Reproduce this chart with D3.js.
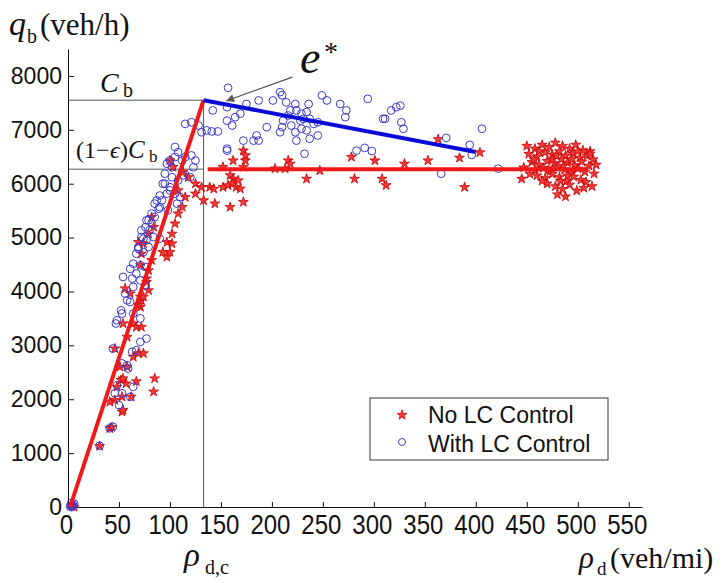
<!DOCTYPE html>
<html><head><meta charset="utf-8">
<script src="https://cdn.jsdelivr.net/npm/d3@7"></script>
<style>body{margin:0;background:#fff}svg{display:block}</style>
</head><body>
<svg id="chart" width="727" height="583"></svg>
<script>
// ---- data ----
const xTicks = [0,50,100,150,200,250,300,350,400,450,500,550];
const yTicks = [0,1000,2000,3000,4000,5000,6000,7000,8000];
const capacity = 7550;      // C_b
const dropCapacity = 6270;  // (1-eps) C_b
const criticalDensity = 133; // rho_d,c
const redRiseLine = [[2,0],[133,7550]];
const redFlatLine = [[137,6270],[510,6270]];
const blueLine = [[133,7550],[400,6590]];
const arrowFrom = [220,7980];
const arrowTo = [155,7535];

const noLC = [
 [4,30],[6,0],
 [31,1130],[41,1460],[43,1480],[46,1985],[41,1950],[53,1765],[54,1800],[48,2230],[53,2045],[62,2045],
 [52,2355],[57,2290],[67,2330],[54,2385],[84,2140],[85,2385],[51,2600],[58,2600],[64,2785],[69,2850],
 [74,2850],[46,2940],[58,3155],[54,3405],[64,3405],[67,3340],[72,3340],[71,3710],[69,3745],[72,3835],
 [61,3960],[71,3900],[74,3900],[56,4055],[79,4020],[77,4175],[77,4240],[79,4390],[71,4485],[82,4580],
 [93,4730],[97,4640],[72,4700],[100,4730],[74,4890],[69,4915],[97,4915],[102,4890],[79,5070],[102,5070],
 [84,5195],[105,5260],[82,5380],[108,5445],[112,5565],[108,5875],[115,5750],[125,5815],[125,6000],
 [131,5935],[118,6120],[113,6215],[103,6310],[100,6430],
 [133,5690],[139,5935],[143,5905],[144,5630],[152,5935],[157,5970],[159,5565],[159,6155],[162,6090],
 [161,6000],[165,5935],[169,5905],[167,6060],[172,5660],[152,6310],[162,6430],[172,6310],[174,6430],
 [172,6615],[174,6525],[203,6280],[213,6280],[216,6430],[218,6370],[234,6090],[247,6245],[278,6495],
 [281,6090],[301,6430],[308,6090],[312,5970],[330,6370],[353,6430],[363,6825],[384,6480],[389,5935],
 [404,6580],[445,6090],
 [450,6700],[458,6650],[465,6720],[472,6680],[478,6760],[485,6700],[492,6650],[498,6720],[505,6620],[512,6600],
 [452,6550],[460,6500],[468,6580],[475,6540],[482,6600],[488,6520],[495,6560],[502,6480],[509,6520],[515,6450],
 [455,6400],[462,6350],[470,6420],[477,6380],[484,6450],[490,6390],[497,6340],[504,6410],[511,6330],[447,6300],
 [458,6250],[466,6290],[473,6230],[480,6300],[487,6260],[494,6200],[500,6280],[507,6220],[516,6185],[518,6350],
 [460,6150],[468,6100],[475,6180],[482,6120],[489,6050],[496,6130],[503,6070],[508,6030],[470,6000],[478,5950],
 [485,5900],[492,5980],[499,5870],[506,5920],[480,5800],[488,5760],[475,6450],[462,6600],[494,6450],[486,6330],
 [471,6250],[479,6520],[500,6600],[457,6450],[490,6150],[465,6050],[514,5950],[512,6555],[453,6180],[483,6050]
];

const withLC = [
 [2,10],[3,20],[4,0],[5,40],[6,60],[3,70],
 [31,1136],[41,1460],[44,1490],[50,1890],[46,2110],[53,2110],[48,2260],[61,2045],[64,2230],[53,2665],
 [58,2630],[59,2570],[63,2880],[67,2910],[44,2940],[71,3065],[77,3125],[47,3405],[48,3465],[52,3650],
 [53,3590],[64,3590],[71,3500],[56,3960],[58,3835],[61,3805],[64,4085],[76,4115],[71,4205],[63,4240],
 [54,4270],[67,4330],[61,4420],[64,4515],[71,4485],[76,4455],[67,4700],[69,4825],[74,4730],[77,4950],
 [72,5010],[76,5195],[80,5135],[79,5320],[82,5445],[85,5630],[69,4795],[79,4825],[84,5010],[90,4980],
 [74,4980],[72,5135],[77,5320],[82,5260],[85,5380],[89,5535],[87,5690],[90,5780],[100,5875],[95,6000],
 [92,5690],[90,5565],[98,5505],[107,5630],[110,5750],[97,5815],[105,5815],[100,5935],[93,6000],[95,6185],
 [102,6120],[108,6060],[113,6155],[120,6120],[97,6370],[100,6430],[102,6305],[105,6495],[105,6680],
 [108,6585],[112,6430],[115,6495],[121,6525],[125,6430],[123,6305],[115,7110],[121,7140],[128,7080],
 [131,6955],[136,6990],[141,6970],[147,6970],
 [142,7360],[156,7420],[157,7780],[156,7170],[161,7080],[164,7235],[169,7300],[175,7480],[187,7545],
 [156,6650],[156,6615],[172,6800],[182,6800],[187,6800],[185,6895],[195,7050],
 [201,7545],[208,7700],[210,7640],[214,7510],[223,7480],[224,7360],[229,7300],[236,7480],[234,7330],
 [237,7205],[241,7110],[245,7140],[228,7170],[211,7170],[210,7050],[219,7080],[223,6955],[229,7020],
 [234,6990],[245,6895],[237,6835],[224,6800],[208,6955],[216,7265],[218,7360],[231,7205],[232,6555],
 [249,7640],[254,7545],[267,7480],[273,7360],[272,7235],[294,7575],[283,6615],[291,6665],[298,6605],
 [309,7205],[317,7360],[322,7420],[326,7450],[327,7140],[329,7020],[311,7205],[371,6850],[394,6720],
 [406,7020],[396,6535],[366,6185],[422,6280]
];

const legendLabels = ["No LC Control","With LC Control"];

// ---- drawing ----
const svg = d3.select("#chart");
const x = d3.scaleLinear().domain([0,563]).range([68,642]);
const y = d3.scaleLinear().domain([0,8500]).range([507,49]);
const SERIF = "'Liberation Serif','Times New Roman',serif";
const SANS = "'Liberation Sans',Arial,sans-serif";
const RED = "#f01818", BLUE = "#0a0ad8", CIRC = "#3c3cc8", GRAY = "#555";

// reference lines
const ref = svg.append("g").attr("stroke", GRAY).attr("stroke-width", 1).attr("fill","none");
ref.append("line").attr("x1", x(0)).attr("x2", x(criticalDensity)).attr("y1", y(capacity)).attr("y2", y(capacity));
ref.append("line").attr("x1", x(0)).attr("x2", x(criticalDensity)).attr("y1", y(dropCapacity)).attr("y2", y(dropCapacity));
ref.append("line").attr("x1", x(criticalDensity)).attr("x2", x(criticalDensity)).attr("y1", y(0)).attr("y2", y(capacity));

// axes
const xAxis = svg.append("g").attr("transform", `translate(0,${y(0)})`)
  .call(d3.axisBottom(x).tickValues(xTicks).tickFormat(d3.format("d")).tickSizeInner(-5).tickSizeOuter(0));
xAxis.selectAll("text").attr("y", 0).attr("dy", null)
  .attr("transform", "translate(-2,27) scale(1,1.15)")
  .style("font-family", SANS).style("font-size", "24px").attr("fill", "#111");
const yAxis = svg.append("g").attr("transform", `translate(${x(0)},0)`)
  .call(d3.axisLeft(y).tickValues(yTicks).tickFormat(d3.format("d")).tickSizeInner(-6).tickSizeOuter(0).tickPadding(6));
yAxis.selectAll("text").style("font-family", SANS).style("font-size", "23px").attr("fill", "#111");
svg.selectAll(".domain, .tick line").attr("stroke", "#111");

// points
const star = d3.symbol().type(d3.symbolStar).size(30);
svg.append("g").selectAll("path").data(noLC).join("path")
  .attr("transform", d => `translate(${x(d[0])},${y(d[1])})`)
  .attr("d", star).attr("fill", "#f23a3a").attr("stroke", "#c80000").attr("stroke-width", 0.8);
svg.append("g").selectAll("circle").data(withLC).join("circle")
  .attr("cx", d => x(d[0])).attr("cy", d => y(d[1])).attr("r", 3.9)
  .attr("fill", "none").attr("stroke", CIRC).attr("stroke-width", 1);

// fitted lines
const line = d3.line().x(d => x(d[0])).y(d => y(d[1]));
svg.append("path").datum(redRiseLine).attr("d", line).attr("stroke", RED).attr("stroke-width", 4).attr("fill","none");
svg.append("path").datum(redFlatLine).attr("d", line).attr("stroke", RED).attr("stroke-width", 4).attr("fill","none");
svg.append("path").datum(blueLine).attr("d", line).attr("stroke", BLUE).attr("stroke-width", 4).attr("fill","none");

// arrow
svg.append("defs").append("marker").attr("id","ah").attr("viewBox","0 0 10 10")
  .attr("refX",10).attr("refY",5).attr("markerWidth",10).attr("markerHeight",8)
  .attr("markerUnits","userSpaceOnUse").attr("orient","auto")
  .append("path").attr("d","M0,0L10,5L0,10Z").attr("fill", GRAY);
svg.append("line").attr("x1", x(arrowFrom[0])).attr("y1", y(arrowFrom[1]))
  .attr("x2", x(arrowTo[0])).attr("y2", y(arrowTo[1]))
  .attr("stroke", GRAY).attr("stroke-width", 1.3).attr("marker-end", "url(#ah)");

// math labels
function mathLabel(parts){
  const t = svg.append("text").style("font-family", SERIF).attr("fill", "#111");
  parts.forEach(p => {
    t.append("tspan").attr("x", p.x).attr("y", p.y).style("font-size", p.s + "px")
      .style("font-style", p.i ? "italic" : "normal").text(p.t);
  });
}
mathLabel([{t:"q",x:9,y:35,s:34,i:true},{t:"b",x:27,y:43,s:20},{t:"(veh/h)",x:40,y:35,s:31}]);
mathLabel([{t:"C",x:100,y:92,s:28,i:true},{t:"b",x:123,y:97,s:20}]);
mathLabel([{t:"(1\u2212",x:76,y:158,s:24},{t:"\u03f5",x:110,y:158,s:24,i:true},{t:")",x:120,y:158,s:24},{t:"C",x:128,y:158,s:25,i:true},{t:"b",x:149,y:162,s:17}]);
mathLabel([{t:"e",x:300,y:73,s:46,i:true},{t:"*",x:324,y:61,s:28}]);
mathLabel([{t:"\u03c1",x:184,y:566,s:33,i:true},{t:"d,c",x:205,y:574,s:20}]);
mathLabel([{t:"\u03c1",x:579,y:568,s:31,i:true},{t:"d",x:597,y:575,s:19}]);
mathLabel([{t:"(veh/mi)",x:610,y:568,s:30}]);

// legend
const lg = svg.append("g");
lg.append("rect").attr("x", 370).attr("y", 398).attr("width", 238).attr("height", 62)
  .attr("fill", "#fff").attr("stroke", "#333").attr("stroke-width", 1);
lg.append("path").attr("transform", "translate(402,415)").attr("d", star)
  .attr("fill", "#f23a3a").attr("stroke", "#c80000").attr("stroke-width", 0.8);
lg.append("circle").attr("cx", 402).attr("cy", 442).attr("r", 3.5)
  .attr("fill", "none").attr("stroke", CIRC).attr("stroke-width", 1);
lg.selectAll("text").data(legendLabels).join("text")
  .attr("x", 428).attr("y", (d,i) => 423 + i*28.5)
  .style("font-family", SANS).style("font-size", "23px").attr("fill", "#111").text(d => d);
</script>
</body></html>
